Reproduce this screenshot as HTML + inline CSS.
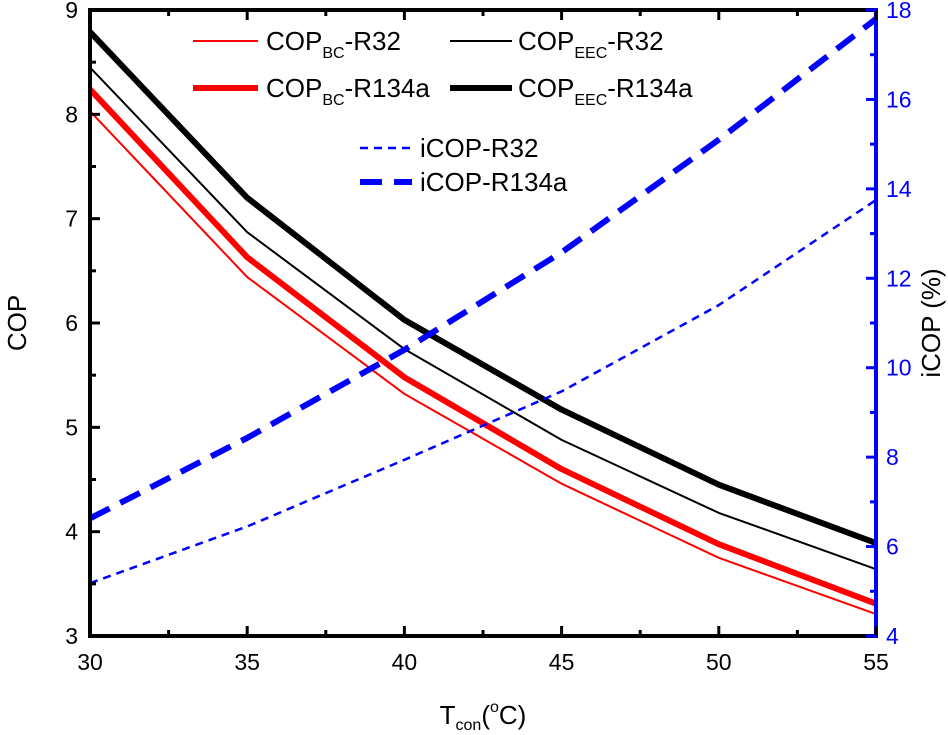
<!DOCTYPE html>
<html><head><meta charset="utf-8"><style>
html,body{margin:0;padding:0;background:#fff;}
svg{display:block;font-family:"Liberation Sans",Arial,sans-serif;}
</style></head><body>
<svg id="chart" width="948" height="735" viewBox="0 0 948 735">
<g id="grid"></g>
<g id="series"></g>
<g id="axes"></g>
<g id="legend"></g>
</svg>
<script>
const temps = [30, 35, 40, 45, 50, 55];
const copBcR32 = [8.03, 6.44, 5.32, 4.46, 3.75, 3.21];
const copEecR32 = [8.45, 6.87, 5.75, 4.88, 4.18, 3.64];
const copBcR134a = [8.24, 6.63, 5.48, 4.60, 3.88, 3.31];
const copEecR134a = [8.79, 7.20, 6.03, 5.17, 4.45, 3.89];
const icopR32 = [5.18, 6.45, 7.94, 9.47, 11.4, 13.75];
const icopR134a = [6.63, 8.43, 10.4, 12.58, 15.1, 17.8];
const xTicks = [30, 35, 40, 45, 50, 55];
const yLeftTicks = [3, 4, 5, 6, 7, 8, 9];
const yRightTicks = [4, 6, 8, 10, 12, 14, 16, 18];

const L=90,R=876,T=10,B=636;
const NS="http://www.w3.org/2000/svg";
const x=v=>L+(v-30)/25*(R-L);
const yL=v=>B-(v-3)/6*(B-T);
const yR=v=>B-(v-4)/14*(B-T);
function mk(tag,attrs,parent){const e=document.createElementNS(NS,tag);for(const k in attrs)e.setAttribute(k,attrs[k]);parent.appendChild(e);return e;}
const S=document.getElementById('series'),A=document.getElementById('axes'),G=document.getElementById('legend');

const defs=[
 [copBcR32,yL,'#ff0000',2,null,'line-cop-bc-r32'],
 [copEecR32,yL,'#000',2,null,'line-cop-eec-r32'],
 [copBcR134a,yL,'#ff0000',6,null,'line-cop-bc-r134a'],
 [copEecR134a,yL,'#000',6,null,'line-cop-eec-r134a'],
 [icopR32,yR,'#0000ff',2.5,'8,6','line-icop-r32'],
 [icopR134a,yR,'#0000ff',6,'22,12','line-icop-r134a']
];
defs.forEach(d=>{
 const pts=temps.map((t,i)=>x(t).toFixed(1)+','+d[1](d[0][i]).toFixed(1)).join(' ');
 const p=mk('polyline',{points:pts,fill:'none',stroke:d[2],'stroke-width':d[3],'stroke-linejoin':'round'},S);
 if(d[4])p.setAttribute('stroke-dasharray',d[4]);
 
 
});

mk('line',{x1:L,y1:T,x2:R,y2:T,stroke:'#000','stroke-width':4},A);
mk('line',{x1:L,y1:B,x2:R,y2:B,stroke:'#000','stroke-width':4},A);
mk('line',{x1:L,y1:T-2,x2:L,y2:B+2,stroke:'#000','stroke-width':4},A);
mk('line',{x1:R,y1:T-2,x2:R,y2:B+2,stroke:'#0000ff','stroke-width':4},A);

for(let v=30;v<=55;v+=2.5){
 const major=(v%5===0);const len=major?10:6;
 mk('line',{x1:x(v),y1:B,x2:x(v),y2:B-len,stroke:'#000','stroke-width':3},A);
 mk('line',{x1:x(v),y1:T,x2:x(v),y2:T+len,stroke:'#000','stroke-width':3},A);
}
xTicks.forEach(v=>{const t=mk('text',{x:x(v),y:B+34,'text-anchor':'middle','font-size':23},A);t.textContent=v;
 });
for(let v=3;v<=9;v+=0.5){const len=(v%1===0)?10:6;mk('line',{x1:L,y1:yL(v),x2:L+len,y2:yL(v),stroke:'#000','stroke-width':3},A);}
yLeftTicks.forEach(v=>{const t=mk('text',{x:L-12,y:yL(v)+8,'text-anchor':'end','font-size':23},A);t.textContent=v;
 });
for(let v=4;v<=18;v+=1){const len=(v%2===0)?10:6;mk('line',{x1:R,y1:yR(v),x2:R-len,y2:yR(v),stroke:'#0000ff','stroke-width':3},A);}
yRightTicks.forEach(v=>{const t=mk('text',{x:R+10,y:yR(v)+8,'text-anchor':'start','font-size':23,fill:'#0000ff'},A);t.textContent=v;
 });

let t=mk('text',{x:0,y:0,'font-size':26,'text-anchor':'middle',transform:'rotate(-90) translate(-323,26)'},A);t.textContent='COP';

t=mk('text',{x:0,y:0,'font-size':26,'text-anchor':'middle',transform:'rotate(-90) translate(-323,940)'},A);t.textContent='iCOP (%)';

t=mk('text',{x:483,y:724,'font-size':26,'text-anchor':'middle'},A);
t.innerHTML='T<tspan font-size="16" dy="6">con</tspan><tspan dy="-6">(</tspan><tspan font-size="16" dy="-12">o</tspan><tspan dy="12">C)</tspan>';


const leg=[
 [193,258,41,'#ff0000',2,null,'COP','BC','-R32',266],
 [450,512,41,'#000',2,null,'COP','EEC','-R32',518],
 [193,258,88,'#ff0000',6,null,'COP','BC','-R134a',266],
 [450,512,88,'#000',6,null,'COP','EEC','-R134a',518],
 [360,412,148,'#0000ff',2.5,'8,6','iCOP-R32','','',420],
 [360,412,182,'#0000ff',6,'22,12','iCOP-R134a','','',420]
];
leg.forEach(l=>{
 const g=mk('g',{},G);
 
 
 const ln=mk('line',{x1:l[0],y1:l[2],x2:l[1],y2:l[2],stroke:l[3],'stroke-width':l[4]},g);
 if(l[5])ln.setAttribute('stroke-dasharray',l[5]);
 const tx=mk('text',{x:l[9],y:l[2]+9,'font-size':26},g);
 if(l[7]){tx.innerHTML=l[6]+'<tspan font-size="16" dy="8">'+l[7]+'</tspan><tspan dy="-8">'+l[8]+'</tspan>';}
 else tx.textContent=l[6];
});
</script>
</body></html>
